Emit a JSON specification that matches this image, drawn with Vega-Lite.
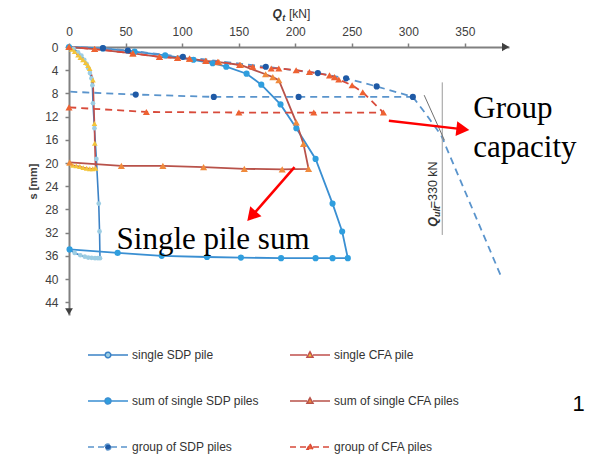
{
  "$schema": "https://vega.github.io/schema/vega-lite/v6.json",
  "width": 440,
  "height": 268,
  "autosize": {"type": "none"},
  "padding": {"left": 69, "top": 47, "right": 80, "bottom": 141},
  "background": "white",
  "config": {
    "view": {"stroke": null},
    "axis": {
      "grid": false,
      "domainColor": "#808080",
      "domainWidth": 2,
      "tickColor": "#808080",
      "tickWidth": 1.5,
      "tickSize": 4,
      "labelFont": "Liberation Sans",
      "labelFontSize": 12,
      "labelColor": "#404040",
      "labelFlush": false,
      "labelOverlap": false
    },
    "legend": {
      "orient": "none",
      "legendX": 18,
      "legendY": 287,
      "direction": "horizontal",
      "columns": 2,
      "columnPadding": 28,
      "rowPadding": 19,
      "padding": 0,
      "symbolSize": 1600,
      "symbolStrokeWidth": 1.5,
      "symbolFillColor": "#999999",
      "symbolStrokeColor": "#999999",
      "labelFont": "Liberation Sans",
      "labelFontSize": 12,
      "labelColor": "#333333",
      "labelOffset": 3,
      "labelLimit": 300
    }
  },
  "datasets": {
    "curves": [
      {"series": "single SDP pile", "i": 0, "Q": 0, "s": 0},
      {"series": "single SDP pile", "i": 1, "Q": 4, "s": 0.3},
      {"series": "single SDP pile", "i": 2, "Q": 8, "s": 0.9},
      {"series": "single SDP pile", "i": 3, "Q": 11, "s": 1.5},
      {"series": "single SDP pile", "i": 4, "Q": 13.5, "s": 2.2},
      {"series": "single SDP pile", "i": 5, "Q": 15.5, "s": 2.9},
      {"series": "single SDP pile", "i": 6, "Q": 17, "s": 3.6},
      {"series": "single SDP pile", "i": 7, "Q": 18.5, "s": 4.5},
      {"series": "single SDP pile", "i": 8, "Q": 19.8, "s": 5.4},
      {"series": "single SDP pile", "i": 9, "Q": 20.7, "s": 6.6},
      {"series": "single SDP pile", "i": 10, "Q": 21.2, "s": 9.7},
      {"series": "single SDP pile", "i": 11, "Q": 22.5, "s": 14.0},
      {"series": "single SDP pile", "i": 12, "Q": 24.2, "s": 19.3},
      {"series": "single SDP pile", "i": 13, "Q": 26.3, "s": 27.0},
      {"series": "single SDP pile", "i": 14, "Q": 27.0, "s": 31.8},
      {"series": "single SDP pile", "i": 15, "Q": 27.4, "s": 36.4},
      {"series": "single SDP pile", "i": 16, "Q": 25.5, "s": 36.4},
      {"series": "single SDP pile", "i": 17, "Q": 23, "s": 36.4},
      {"series": "single SDP pile", "i": 18, "Q": 20, "s": 36.35},
      {"series": "single SDP pile", "i": 19, "Q": 17, "s": 36.3},
      {"series": "single SDP pile", "i": 20, "Q": 14, "s": 36.15},
      {"series": "single SDP pile", "i": 21, "Q": 10, "s": 35.9},
      {"series": "single SDP pile", "i": 22, "Q": 5, "s": 35.5},
      {"series": "single SDP pile", "i": 23, "Q": 0.3, "s": 34.9},

      {"series": "single CFA pile", "i": 0, "Q": 0, "s": 0},
      {"series": "single CFA pile", "i": 1, "Q": 2.5, "s": 0.4},
      {"series": "single CFA pile", "i": 2, "Q": 5, "s": 0.8},
      {"series": "single CFA pile", "i": 3, "Q": 8, "s": 1.4},
      {"series": "single CFA pile", "i": 4, "Q": 10, "s": 1.8},
      {"series": "single CFA pile", "i": 5, "Q": 12.4, "s": 2.2},
      {"series": "single CFA pile", "i": 6, "Q": 14.8, "s": 2.7},
      {"series": "single CFA pile", "i": 7, "Q": 16.8, "s": 3.2},
      {"series": "single CFA pile", "i": 8, "Q": 18.3, "s": 3.7},
      {"series": "single CFA pile", "i": 9, "Q": 21.2, "s": 5.7},
      {"series": "single CFA pile", "i": 10, "Q": 22.5, "s": 13.2},
      {"series": "single CFA pile", "i": 11, "Q": 22.8, "s": 16.6},
      {"series": "single CFA pile", "i": 12, "Q": 23.5, "s": 20.9},
      {"series": "single CFA pile", "i": 13, "Q": 21, "s": 21.0},
      {"series": "single CFA pile", "i": 14, "Q": 18.4, "s": 21.0},
      {"series": "single CFA pile", "i": 15, "Q": 15.6, "s": 20.9},
      {"series": "single CFA pile", "i": 16, "Q": 12.6, "s": 20.8},
      {"series": "single CFA pile", "i": 17, "Q": 9.6, "s": 20.6},
      {"series": "single CFA pile", "i": 18, "Q": 6.4, "s": 20.5},
      {"series": "single CFA pile", "i": 19, "Q": 3.3, "s": 20.4},
      {"series": "single CFA pile", "i": 20, "Q": 0.5, "s": 20.0},

      {"series": "sum of single SDP piles", "i": 0, "Q": 0, "s": 0},
      {"series": "sum of single SDP piles", "i": 1, "Q": 30, "s": 0.25},
      {"series": "sum of single SDP piles", "i": 2, "Q": 58, "s": 0.8},
      {"series": "sum of single SDP piles", "i": 3, "Q": 85, "s": 1.45},
      {"series": "sum of single SDP piles", "i": 4, "Q": 110, "s": 2.2},
      {"series": "sum of single SDP piles", "i": 5, "Q": 127, "s": 2.8},
      {"series": "sum of single SDP piles", "i": 6, "Q": 139, "s": 3.4},
      {"series": "sum of single SDP piles", "i": 7, "Q": 157, "s": 4.6},
      {"series": "sum of single SDP piles", "i": 8, "Q": 170, "s": 6.5},
      {"series": "sum of single SDP piles", "i": 9, "Q": 187, "s": 9.9},
      {"series": "sum of single SDP piles", "i": 10, "Q": 201, "s": 14.0},
      {"series": "sum of single SDP piles", "i": 11, "Q": 218, "s": 19.3},
      {"series": "sum of single SDP piles", "i": 12, "Q": 233, "s": 27.0},
      {"series": "sum of single SDP piles", "i": 13, "Q": 241.5, "s": 31.8},
      {"series": "sum of single SDP piles", "i": 14, "Q": 246.5, "s": 36.4},
      {"series": "sum of single SDP piles", "i": 15, "Q": 233, "s": 36.4},
      {"series": "sum of single SDP piles", "i": 16, "Q": 218, "s": 36.4},
      {"series": "sum of single SDP piles", "i": 17, "Q": 187.5, "s": 36.4},
      {"series": "sum of single SDP piles", "i": 18, "Q": 152, "s": 36.3},
      {"series": "sum of single SDP piles", "i": 19, "Q": 122, "s": 36.2},
      {"series": "sum of single SDP piles", "i": 20, "Q": 82, "s": 36.0},
      {"series": "sum of single SDP piles", "i": 21, "Q": 43, "s": 35.5},
      {"series": "sum of single SDP piles", "i": 22, "Q": 0.5, "s": 34.9},

      {"series": "sum of single CFA piles", "i": 0, "Q": 0, "s": 0},
      {"series": "sum of single CFA piles", "i": 1, "Q": 22.7, "s": 0.35},
      {"series": "sum of single CFA piles", "i": 2, "Q": 56.5, "s": 1.1},
      {"series": "sum of single CFA piles", "i": 3, "Q": 80, "s": 1.7},
      {"series": "sum of single CFA piles", "i": 4, "Q": 96, "s": 1.9},
      {"series": "sum of single CFA piles", "i": 5, "Q": 106.6, "s": 2.0},
      {"series": "sum of single CFA piles", "i": 6, "Q": 121, "s": 2.4},
      {"series": "sum of single CFA piles", "i": 7, "Q": 132.5, "s": 2.6},
      {"series": "sum of single CFA piles", "i": 8, "Q": 151.7, "s": 3.1},
      {"series": "sum of single CFA piles", "i": 9, "Q": 173.8, "s": 4.7},
      {"series": "sum of single CFA piles", "i": 10, "Q": 180.2, "s": 5.2},
      {"series": "sum of single CFA piles", "i": 11, "Q": 185.5, "s": 5.7},
      {"series": "sum of single CFA piles", "i": 12, "Q": 200.9, "s": 13.0},
      {"series": "sum of single CFA piles", "i": 13, "Q": 207.3, "s": 16.7},
      {"series": "sum of single CFA piles", "i": 14, "Q": 211.8, "s": 21.0},
      {"series": "sum of single CFA piles", "i": 15, "Q": 188.5, "s": 21.1},
      {"series": "sum of single CFA piles", "i": 16, "Q": 155, "s": 21.0},
      {"series": "sum of single CFA piles", "i": 17, "Q": 119, "s": 20.7},
      {"series": "sum of single CFA piles", "i": 18, "Q": 83, "s": 20.5},
      {"series": "sum of single CFA piles", "i": 19, "Q": 46.3, "s": 20.5},
      {"series": "sum of single CFA piles", "i": 20, "Q": 0.6, "s": 19.9},

      {"series": "group of SDP piles", "i": 0, "Q": 0, "s": 0},
      {"series": "group of SDP piles", "i": 1, "Q": 30, "s": 0.2},
      {"series": "group of SDP piles", "i": 2, "Q": 52, "s": 0.6},
      {"series": "group of SDP piles", "i": 3, "Q": 100.7, "s": 1.7},
      {"series": "group of SDP piles", "i": 4, "Q": 174, "s": 3.4},
      {"series": "group of SDP piles", "i": 5, "Q": 220, "s": 4.5},
      {"series": "group of SDP piles", "i": 6, "Q": 245, "s": 5.4},
      {"series": "group of SDP piles", "i": 7, "Q": 272, "s": 6.8},
      {"series": "group of SDP piles", "i": 8, "Q": 304, "s": 8.6},
      {"series": "group of SDP piles", "i": 9, "Q": 203, "s": 8.6},
      {"series": "group of SDP piles", "i": 10, "Q": 128, "s": 8.6},
      {"series": "group of SDP piles", "i": 11, "Q": 59, "s": 8.2},
      {"series": "group of SDP piles", "i": 12, "Q": 0, "s": 7.7},

      {"series": "group of CFA piles", "i": 0, "Q": 0, "s": 0},
      {"series": "group of CFA piles", "i": 1, "Q": 22.7, "s": 0.35},
      {"series": "group of CFA piles", "i": 2, "Q": 56.5, "s": 1.1},
      {"series": "group of CFA piles", "i": 3, "Q": 80, "s": 1.7},
      {"series": "group of CFA piles", "i": 4, "Q": 96, "s": 1.9},
      {"series": "group of CFA piles", "i": 5, "Q": 106.6, "s": 2.0},
      {"series": "group of CFA piles", "i": 6, "Q": 121, "s": 2.4},
      {"series": "group of CFA piles", "i": 7, "Q": 131.6, "s": 2.55},
      {"series": "group of CFA piles", "i": 8, "Q": 150.8, "s": 3.1},
      {"series": "group of CFA piles", "i": 9, "Q": 162.5, "s": 3.4},
      {"series": "group of CFA piles", "i": 10, "Q": 178.8, "s": 3.7},
      {"series": "group of CFA piles", "i": 11, "Q": 185.5, "s": 3.7},
      {"series": "group of CFA piles", "i": 12, "Q": 200.8, "s": 4.0},
      {"series": "group of CFA piles", "i": 13, "Q": 212.6, "s": 4.3},
      {"series": "group of CFA piles", "i": 14, "Q": 230.3, "s": 4.9},
      {"series": "group of CFA piles", "i": 15, "Q": 234.7, "s": 5.2},
      {"series": "group of CFA piles", "i": 16, "Q": 238.5, "s": 5.6},
      {"series": "group of CFA piles", "i": 17, "Q": 250.3, "s": 6.6},
      {"series": "group of CFA piles", "i": 18, "Q": 259.7, "s": 7.8},
      {"series": "group of CFA piles", "i": 19, "Q": 278, "s": 11.3},
      {"series": "group of CFA piles", "i": 20, "Q": 216.4, "s": 11.3},
      {"series": "group of CFA piles", "i": 21, "Q": 150.2, "s": 11.3},
      {"series": "group of CFA piles", "i": 22, "Q": 68.4, "s": 11.2},
      {"series": "group of CFA piles", "i": 23, "Q": 0, "s": 10.4}
    ],
    "extrapolation": [
      {"i": 0, "Q": 304, "s": 8.6},
      {"i": 1, "Q": 313, "s": 10.9},
      {"i": 2, "Q": 321.6, "s": 13.2},
      {"i": 3, "Q": 329, "s": 15.2},
      {"i": 4, "Q": 383, "s": 40.0}
    ]
  },
  "layer": [
    {
      "data": {"name": "curves"},
      "transform": [{"filter": "datum.series === 'single SDP pile'"}],
      "mark": {"type": "line", "stroke": "#3b82c6", "strokeWidth": 1.6},
      "encoding": {
        "x": {
          "field": "Q",
          "type": "quantitative",
          "scale": {"domain": [0, 389], "nice": false, "zero": false},
          "axis": {"orient": "top", "values": [0, 50, 100, 150, 200, 250, 300, 350], "tickCount": 20, "title": null, "labelPadding": 5, "labelOverlap": false, "labelFlush": false}
        },
        "y": {
          "field": "s",
          "type": "quantitative",
          "scale": {"domain": [0, 46.2], "nice": false, "zero": false, "reverse": true},
          "axis": {
            "orient": "left",
            "values": [0, 4, 8, 12, 16, 20, 24, 28, 32, 36, 40, 44],
            "tickCount": 20,
            "title": "s [mm]",
            "titleFont": "Liberation Sans",
            "titleFontSize": 11,
            "titleFontWeight": "bold",
            "titleColor": "#404040",
            "titlePadding": 6,
            "labelPadding": 7,
            "labelOverlap": false,
            "labelFlush": false
          }
        },
        "order": {"field": "i"}
      }
    },
    {
      "data": {"name": "curves"},
      "transform": [{"filter": "datum.series === 'single CFA pile'"}],
      "mark": {"type": "line", "stroke": "#c0504d", "strokeWidth": 1.6},
      "encoding": {"x": {"field": "Q", "type": "quantitative"}, "y": {"field": "s", "type": "quantitative"}, "order": {"field": "i"}}
    },
    {
      "data": {"name": "curves"},
      "transform": [{"filter": "datum.series === 'sum of single SDP piles'"}],
      "mark": {"type": "line", "stroke": "#3a8fd2", "strokeWidth": 1.8},
      "encoding": {"x": {"field": "Q", "type": "quantitative"}, "y": {"field": "s", "type": "quantitative"}, "order": {"field": "i"}}
    },
    {
      "data": {"name": "curves"},
      "transform": [{"filter": "datum.series === 'sum of single CFA piles'"}],
      "mark": {"type": "line", "stroke": "#b8524a", "strokeWidth": 1.8},
      "encoding": {"x": {"field": "Q", "type": "quantitative"}, "y": {"field": "s", "type": "quantitative"}, "order": {"field": "i"}}
    },
    {
      "data": {"name": "curves"},
      "transform": [{"filter": "datum.series === 'group of SDP piles'"}],
      "mark": {"type": "line", "stroke": "#5a94cc", "strokeWidth": 1.8, "strokeDash": [7, 5]},
      "encoding": {"x": {"field": "Q", "type": "quantitative"}, "y": {"field": "s", "type": "quantitative"}, "order": {"field": "i"}}
    },
    {
      "data": {"name": "extrapolation"},
      "mark": {"type": "line", "stroke": "#5a94cc", "strokeWidth": 1.8, "strokeDash": [7, 5]},
      "encoding": {"x": {"field": "Q", "type": "quantitative"}, "y": {"field": "s", "type": "quantitative"}, "order": {"field": "i"}}
    },
    {
      "data": {"name": "curves"},
      "transform": [{"filter": "datum.series === 'group of CFA piles'"}],
      "mark": {"type": "line", "stroke": "#d84a3a", "strokeWidth": 1.8, "strokeDash": [7, 5]},
      "encoding": {"x": {"field": "Q", "type": "quantitative"}, "y": {"field": "s", "type": "quantitative"}, "order": {"field": "i"}}
    },
    {
      "data": {"values": [{}]},
      "mark": {"type": "rule", "stroke": "#9a9a9a", "strokeWidth": 1},
      "encoding": {"x": {"datum": 330}, "y": {"datum": 6.1}, "y2": {"datum": 32.4}}
    },
    {
      "data": {"values": [{}]},
      "mark": {"type": "rule", "stroke": "#707070", "strokeWidth": 1},
      "encoding": {"x": {"datum": 314}, "y": {"datum": 8.3}, "x2": {"datum": 332}, "y2": {"datum": 16.1}}
    },
    {
      "data": {"name": "curves"},
      "transform": [{"filter": "datum.series === 'single SDP pile'"}],
      "mark": {"type": "point", "shape": "circle", "filled": true, "opacity": 1, "strokeWidth": 0, "fill": "#9ccde3", "size": 22},
      "encoding": {"x": {"field": "Q", "type": "quantitative"}, "y": {"field": "s", "type": "quantitative"}}
    },
    {
      "data": {"name": "curves"},
      "transform": [{"filter": "datum.series === 'single CFA pile'"}],
      "mark": {"type": "point", "shape": "triangle-up", "filled": true, "opacity": 1, "strokeWidth": 0, "fill": "#f3c43a", "size": 32},
      "encoding": {"x": {"field": "Q", "type": "quantitative"}, "y": {"field": "s", "type": "quantitative"}}
    },
    {
      "data": {"name": "curves"},
      "transform": [{"filter": "datum.series === 'sum of single SDP piles'"}],
      "mark": {"type": "point", "shape": "circle", "filled": true, "opacity": 1, "strokeWidth": 0, "fill": "#2f9ede", "size": 38},
      "encoding": {"x": {"field": "Q", "type": "quantitative"}, "y": {"field": "s", "type": "quantitative"}}
    },
    {
      "data": {"name": "curves"},
      "transform": [{"filter": "datum.series === 'sum of single CFA piles'"}],
      "mark": {"type": "point", "shape": "triangle-up", "filled": true, "opacity": 1, "strokeWidth": 0, "fill": "#f08a3c", "size": 50},
      "encoding": {"x": {"field": "Q", "type": "quantitative"}, "y": {"field": "s", "type": "quantitative"}}
    },
    {
      "data": {"name": "curves"},
      "transform": [{"filter": "datum.series === 'group of SDP piles' && datum.Q > 0"}],
      "mark": {"type": "point", "shape": "circle", "filled": true, "opacity": 1, "strokeWidth": 0, "fill": "#1f5aa6", "size": 38},
      "encoding": {"x": {"field": "Q", "type": "quantitative"}, "y": {"field": "s", "type": "quantitative"}}
    },
    {
      "data": {"name": "curves"},
      "transform": [{"filter": "datum.series === 'group of CFA piles'"}],
      "mark": {"type": "point", "shape": "triangle-up", "filled": true, "opacity": 1, "strokeWidth": 0, "fill": "#ee6232", "size": 50},
      "encoding": {"x": {"field": "Q", "type": "quantitative"}, "y": {"field": "s", "type": "quantitative"}}
    },
    {
      "data": {"name": "curves"},
      "transform": [{"filter": "datum.s < -100"}],
      "mark": {"type": "point", "filled": true, "opacity": 1, "strokeWidth": 1.5},
      "encoding": {
        "shape": {
          "field": "series", "type": "nominal",
          "scale": {
            "domain": ["single SDP pile", "single CFA pile", "sum of single SDP piles", "sum of single CFA piles", "group of SDP piles", "group of CFA piles"],
            "range": [
              "M-1,0H-0.14M0.14,0H1M-0.14,0A0.14,0.14,0,1,1,0.14,0A0.14,0.14,0,1,1,-0.14,0Z",
              "M-1,0H-0.15M0.15,0H1M0,-0.16L0.15,0.11L-0.15,0.11Z",
              "M-1,0H-0.15M0.15,0H1M-0.15,0A0.15,0.15,0,1,1,0.15,0A0.15,0.15,0,1,1,-0.15,0Z",
              "M-1,0H-0.15M0.15,0H1M0,-0.16L0.15,0.11L-0.15,0.11Z",
              "M-1,0H-0.15M0.15,0H1M-0.15,0A0.15,0.15,0,1,1,0.15,0A0.15,0.15,0,1,1,-0.15,0Z",
              "M-1,0H-0.15M0.15,0H1M0,-0.16L0.15,0.11L-0.15,0.11Z"
            ]
          },
          "legend": {"title": null}
        },
        "fill": {
          "field": "series", "type": "nominal",
          "scale": {
            "domain": ["single SDP pile", "single CFA pile", "sum of single SDP piles", "sum of single CFA piles", "group of SDP piles", "group of CFA piles"],
            "range": ["#9ccde3", "#f3c43a", "#2f9ede", "#f08a3c", "#1f5aa6", "#ee6232"]
          },
          "legend": {"title": null}
        },
        "stroke": {
          "field": "series", "type": "nominal",
          "scale": {
            "domain": ["single SDP pile", "single CFA pile", "sum of single SDP piles", "sum of single CFA piles", "group of SDP piles", "group of CFA piles"],
            "range": ["#3b82c6", "#c0504d", "#3a8fd2", "#b8524a", "#5a94cc", "#d84a3a"]
          },
          "legend": {"title": null}
        },
        "strokeDash": {
          "field": "series", "type": "nominal",
          "scale": {
            "domain": ["single SDP pile", "single CFA pile", "sum of single SDP piles", "sum of single CFA piles", "group of SDP piles", "group of CFA piles"],
            "range": [[1, 0], [1, 0], [1, 0], [1, 0], [6, 4], [6, 4]]
          },
          "legend": {"title": null}
        }
      }
    },
    {
      "data": {"values": [{}]},
      "mark": {"type": "rule", "stroke": "#ff0000", "strokeWidth": 2.5},
      "encoding": {"x": {"datum": 282.8}, "y": {"datum": 12.7}, "x2": {"datum": 343.4}, "y2": {"datum": 14.07}}
    },
    {
      "data": {"values": [{}]},
      "mark": {"type": "point", "shape": "triangle-right", "filled": true, "opacity": 1, "fill": "#ff0000", "strokeWidth": 0, "size": 225, "angle": 6.5},
      "encoding": {"x": {"datum": 348.2}, "y": {"datum": 14.19}}
    },
    {
      "data": {"values": [{}]},
      "mark": {"type": "rule", "stroke": "#ff0000", "strokeWidth": 2.5},
      "encoding": {"x": {"datum": 199.4}, "y": {"datum": 20.7}, "x2": {"datum": 164.5}, "y2": {"datum": 28.5}}
    },
    {
      "data": {"values": [{}]},
      "mark": {"type": "point", "shape": "triangle-right", "filled": true, "opacity": 1, "fill": "#ff0000", "strokeWidth": 0, "size": 225, "angle": 131.4},
      "encoding": {"x": {"datum": 161.4}, "y": {"datum": 29.16}}
    },
    {
      "data": {"values": [{}]},
      "mark": {"type": "point", "shape": "triangle-right", "filled": true, "opacity": 1, "fill": "#404040", "strokeWidth": 0, "size": 70},
      "encoding": {"x": {"datum": 386}, "y": {"datum": 0}}
    },
    {
      "data": {"values": [{}]},
      "mark": {"type": "point", "shape": "triangle-down", "filled": true, "opacity": 1, "fill": "#404040", "strokeWidth": 0, "size": 60},
      "encoding": {"x": {"datum": 0}, "y": {"datum": 45.6}}
    },
    {
      "data": {"values": [{}]},
      "mark": {"type": "text", "text": "Q", "font": "Liberation Sans", "fontSize": 12, "fontWeight": "bold", "fontStyle": "italic", "align": "left", "baseline": "alphabetic", "fill": "#333333"},
      "encoding": {"x": {"datum": 180}, "y": {"datum": -5.0}}
    },
    {
      "data": {"values": [{}]},
      "mark": {"type": "text", "text": "t", "font": "Liberation Sans", "fontSize": 9, "fontWeight": "bold", "fontStyle": "italic", "align": "left", "baseline": "alphabetic", "fill": "#333333"},
      "encoding": {"x": {"datum": 188.6}, "y": {"datum": -4.5}}
    },
    {
      "data": {"values": [{}]},
      "mark": {"type": "text", "text": "[kN]", "font": "Liberation Sans", "fontSize": 12, "align": "left", "baseline": "alphabetic", "fill": "#333333"},
      "encoding": {"x": {"datum": 194.5}, "y": {"datum": -5.0}}
    },
    {
      "data": {"values": [{}]},
      "mark": {"type": "text", "text": "Q", "font": "Liberation Sans", "fontSize": 12.5, "fontWeight": "bold", "fontStyle": "italic", "angle": 270, "align": "left", "baseline": "alphabetic", "fill": "#333333"},
      "encoding": {"x": {"datum": 325.7}, "y": {"datum": 31.0}}
    },
    {
      "data": {"values": [{}]},
      "mark": {"type": "text", "text": "ult", "font": "Liberation Sans", "fontSize": 9, "fontWeight": "bold", "fontStyle": "italic", "angle": 270, "align": "left", "baseline": "alphabetic", "dx": 9.8, "dy": 3, "fill": "#333333"},
      "encoding": {"x": {"datum": 325.7}, "y": {"datum": 31.0}}
    },
    {
      "data": {"values": [{}]},
      "mark": {"type": "text", "text": "=330 kN", "font": "Liberation Sans", "fontSize": 12.5, "angle": 270, "align": "left", "baseline": "alphabetic", "dx": 18.5, "fill": "#333333"},
      "encoding": {"x": {"datum": 325.7}, "y": {"datum": 31.0}}
    },
    {
      "data": {"values": [{}]},
      "mark": {"type": "text", "text": "Single pile sum", "font": "Liberation Serif", "fontSize": 31, "align": "left", "baseline": "alphabetic", "fill": "#000000"},
      "encoding": {"x": {"datum": 42.1}, "y": {"datum": 34.8}}
    },
    {
      "data": {"values": [{}]},
      "mark": {"type": "text", "text": ["Group", "capacity"], "lineHeight": 39, "font": "Liberation Serif", "fontSize": 31, "align": "left", "baseline": "alphabetic", "fill": "#000000"},
      "encoding": {"x": {"datum": 357.4}, "y": {"datum": 12.3}}
    },
    {
      "data": {"values": [{}]},
      "mark": {"type": "text", "text": "1", "font": "Liberation Sans", "fontSize": 22, "align": "center", "baseline": "alphabetic", "fill": "#000000"},
      "encoding": {"x": {"datum": 450.5}, "y": {"datum": 62.8}}
    }
  ]
}
